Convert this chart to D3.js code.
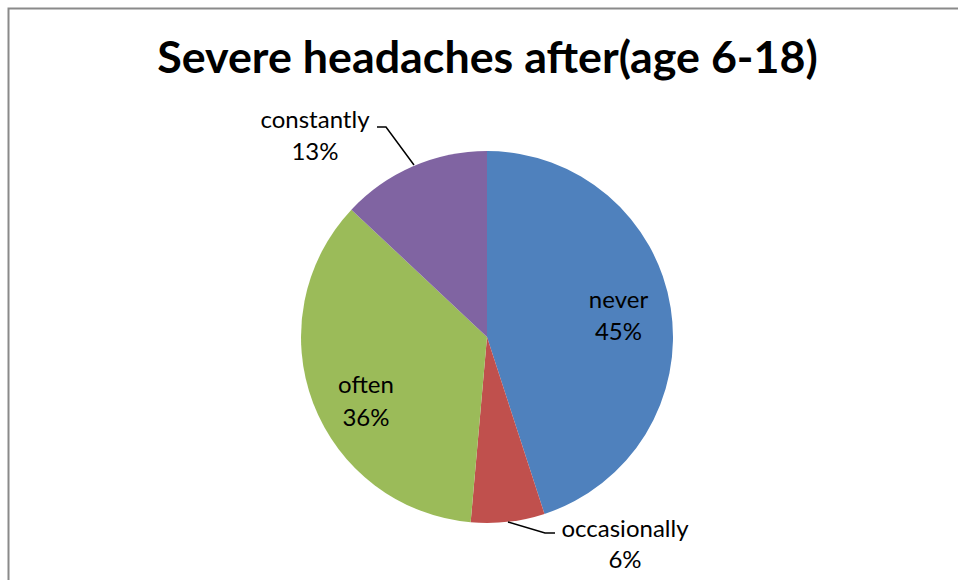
<!DOCTYPE html>
<html><head><meta charset="utf-8">
<script src="https://cdn.jsdelivr.net/npm/d3@7"></script>
<style>body{margin:0;background:#fff}svg{display:block}</style>
</head><body>
<svg id="c" width="958" height="580"></svg>
<script>
const categories = ["never", "occasionally", "often", "constantly"];
const values = [45, 6.4, 35.6, 13];
const colors = ["#4F81BD", "#C0504D", "#9BBB59", "#8064A2"];
const title = "Severe headaches after(age 6-18)";

const svg = d3.select("#c");
const font = "Lato, 'Open Sans', sans-serif";

// chart border (top and left visible)
svg.append("path").attr("d", "M8.5,580 V8.5 H958").attr("fill","none")
  .attr("stroke","#8a8a8a").attr("stroke-width",2);

// title
const t = svg.append("text").attr("x", 487.5).attr("y", 73).attr("text-anchor","middle")
  .attr("font-family", font).attr("font-weight","bold").attr("font-size", 40)
  .attr("fill","#000").text(title);
const tw = t.node().getComputedTextLength();
t.attr("font-size", 40 * 661 / tw);

const cx = 487, cy = 337, r = 186;
const total = d3.sum(values);
const pie = d3.pie().sort(null).value(d => d)(values);
const arc = d3.arc().innerRadius(0).outerRadius(r);
const g = svg.append("g").attr("transform", `translate(${cx},${cy})`);
g.selectAll("path").data(pie).enter().append("path")
  .attr("d", arc).attr("fill", (d,i) => colors[i]);

const pct = v => Math.round(v / total * 100) + "%";
const fs = 24;
function label(x, y, lines, gap) {
  const tx = svg.append("text").attr("font-family", font).attr("font-size", fs)
    .attr("fill", "#000").attr("text-anchor", "middle");
  lines.forEach((l, k) => tx.append("tspan").attr("x", x).attr("y", y + k * gap).text(l));
}
label(618.5, 308, [categories[0], pct(values[0])], 32);
label(366, 393, [categories[2], pct(values[2])], 33);
label(315, 128, [categories[3], pct(values[3])], 32);
label(625, 537, [categories[1], pct(values[1])], 31);

// leader lines
const line = d3.line();
svg.append("path").attr("d", line([[377,127],[386,127],[414,165]]))
  .attr("fill","none").attr("stroke","#000").attr("stroke-width",1.5);
svg.append("path").attr("d", line([[508,522],[545,533],[555,533]]))
  .attr("fill","none").attr("stroke","#000").attr("stroke-width",1.5);
</script>
</body></html>
